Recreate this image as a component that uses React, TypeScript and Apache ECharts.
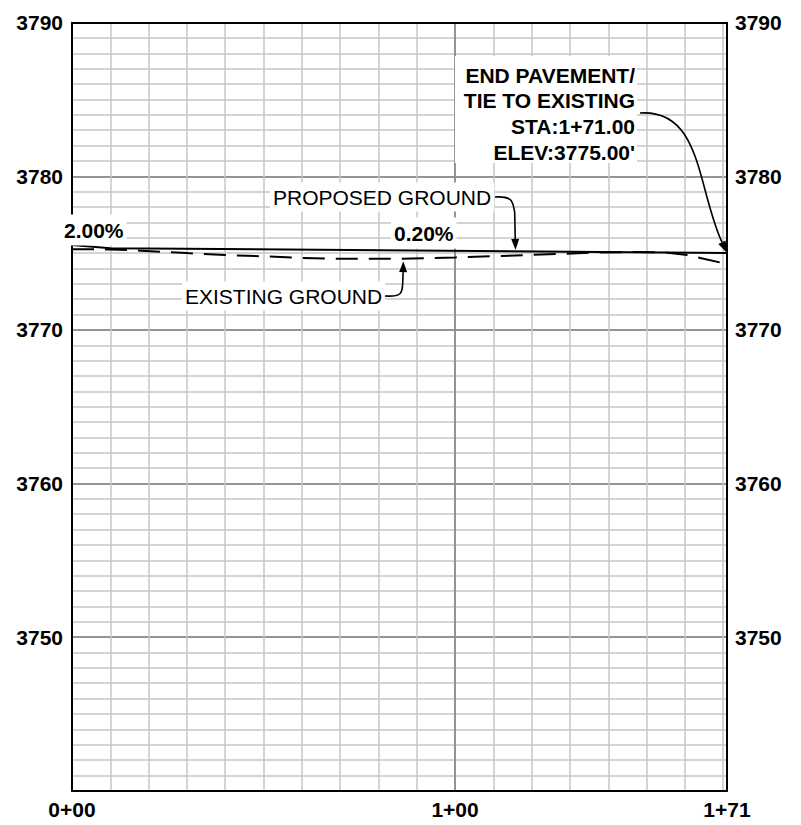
import React, { useEffect, useRef } from "react";
import * as echarts from "echarts";

const X_MIN = 0;
const X_MAX = 171;
const Y_MIN = 3740;
const Y_MAX = 3790;

const stationTicks = [0, 100, 171];
const stationTickLabels = ["0+00", "1+00", "1+71"];
const elevTickLabels = [3790, 3780, 3770, 3760, 3750];

const proposedStations = [0, 10, 171];
const proposedElev = [3775.52, 3775.32, 3775.0];

const existingStations = [0, 10, 18, 30, 40, 50, 60, 70, 85, 100, 120, 135, 145, 155, 160, 164, 171];
const existingElev = [
  3775.25, 3775.24, 3775.16, 3775.0, 3774.87, 3774.79, 3774.69, 3774.63, 3774.63, 3774.72,
  3774.88, 3775.02, 3775.07, 3775.04, 3774.9, 3774.68, 3774.29,
];

const gradeLabels = ["2.00%", "0.20%"];
const proposedNote = "PROPOSED GROUND";
const existingNote = "EXISTING GROUND";
const endNote = ["END PAVEMENT/", "TIE TO EXISTING", "STA:1+71.00", "ELEV:3775.00'"];

// annotation anchor stations
const proposedArrowStation = 115.8;
const existingArrowStation = 86.5;
const endArrowStation = 171;
const endArrowElev = 3775.0;

const FONT = "'Liberation Sans', Arial, sans-serif";
const MINOR = "#c6c6c6";
const MAJOR = "#7f7f7f";

function interp(xs: number[], ys: number[], x: number) {
  for (let i = 0; i < xs.length - 1; i++) {
    if (x >= xs[i] && x <= xs[i + 1]) {
      const t = (x - xs[i]) / (xs[i + 1] - xs[i]);
      return ys[i] + t * (ys[i + 1] - ys[i]);
    }
  }
  return ys[ys.length - 1];
}

function arrowHead(tx: number, ty: number, fx: number, fy: number, len = 11, hw = 4) {
  const dx = tx - fx;
  const dy = ty - fy;
  const d = Math.hypot(dx, dy) || 1;
  const ux = dx / d;
  const uy = dy / d;
  const bx = tx - ux * len;
  const by = ty - uy * len;
  const nx = -uy;
  const ny = ux;
  return {
    base: [bx, by],
    points: [
      [tx, ty],
      [bx + nx * hw, by + ny * hw],
      [bx - nx * hw, by - ny * hw],
    ],
  };
}

export default function App() {
  const ref = useRef<HTMLDivElement>(null);

  useEffect(() => {
    if (!ref.current) return;
    const chart = echarts.init(ref.current, null, { renderer: "svg" });

    const labelStyle = {
      color: "#000",
      fontFamily: FONT,
      fontWeight: "bold" as const,
      fontSize: 21,
    };
    const noAxisBits = {
      axisTick: { show: false },
    };

    chart.setOption({
      animation: false,
      backgroundColor: "#fff",
      grid: { left: 72, right: 74, top: 22.7, bottom: 34.3, containLabel: false },
      xAxis: [
        {
          type: "value",
          min: X_MIN,
          max: X_MAX,
          interval: 10,
          position: "bottom",
          axisLine: { show: false },
          axisLabel: { show: false },
          ...noAxisBits,
          splitLine: {
            show: true,
            showMinLine: false,
            showMaxLine: false,
            lineStyle: { color: MINOR, width: 1.5 },
          },
        },
        {
          type: "value",
          min: X_MIN,
          max: X_MAX,
          interval: 100,
          position: "bottom",
          axisLine: { show: true, onZero: false, lineStyle: { color: "#000", width: 2 } },
          ...noAxisBits,
          axisLabel: {
            show: true,
            customValues: stationTicks,
            showMinLabel: true,
            showMaxLabel: true,
            hideOverlap: false,
            margin: 8,
            ...labelStyle,
            formatter: (v: number) => {
              const i = stationTicks.indexOf(Math.round(v));
              return i >= 0 ? stationTickLabels[i] : "";
            },
          },
          splitLine: {
            show: true,
            showMinLine: false,
            showMaxLine: false,
            lineStyle: { color: MAJOR, width: 1.5 },
          },
        },
        {
          type: "value",
          min: X_MIN,
          max: X_MAX,
          position: "top",
          axisLine: { show: true, onZero: false, lineStyle: { color: "#000", width: 2 } },
          ...noAxisBits,
          axisLabel: { show: false },
          splitLine: { show: false },
        },
      ],
      yAxis: [
        {
          type: "value",
          min: Y_MIN,
          max: Y_MAX,
          interval: 1,
          position: "left",
          axisLine: { show: false },
          axisLabel: { show: false },
          ...noAxisBits,
          splitLine: {
            show: true,
            showMinLine: false,
            showMaxLine: false,
            lineStyle: { color: MINOR, width: 1.5 },
          },
        },
        {
          type: "value",
          min: Y_MIN,
          max: Y_MAX,
          interval: 10,
          position: "left",
          axisLine: { show: true, onZero: false, lineStyle: { color: "#000", width: 2 } },
          ...noAxisBits,
          axisLabel: {
            show: true,
            margin: 9,
            ...labelStyle,
            formatter: (v: number) => (elevTickLabels.indexOf(v) >= 0 ? String(v) : ""),
          },
          splitLine: {
            show: true,
            showMinLine: false,
            showMaxLine: false,
            lineStyle: { color: MAJOR, width: 1.5 },
          },
        },
        {
          type: "value",
          min: Y_MIN,
          max: Y_MAX,
          interval: 10,
          position: "right",
          axisLine: { show: true, onZero: false, lineStyle: { color: "#000", width: 2 } },
          ...noAxisBits,
          axisLabel: {
            show: true,
            margin: 8,
            ...labelStyle,
            formatter: (v: number) => (elevTickLabels.indexOf(v) >= 0 ? String(v) : ""),
          },
          splitLine: { show: false },
        },
      ],
      series: [
        {
          name: "Proposed Ground",
          type: "line",
          xAxisIndex: 0,
          yAxisIndex: 0,
          symbol: "none",
          z: 5,
          lineStyle: { color: "#000", width: 2 },
          data: proposedStations.map((s, i) => [s, proposedElev[i]]),
        },
        {
          name: "Existing Ground",
          type: "line",
          xAxisIndex: 0,
          yAxisIndex: 0,
          symbol: "none",
          z: 5,
          lineStyle: { color: "#000", width: 2, type: [22, 11] },
          data: existingStations.map((s, i) => [s, existingElev[i]]),
        },
      ],
    });

    const px = (s: number, e: number) =>
      chart.convertToPixel({ xAxisIndex: 0, yAxisIndex: 0 }, [s, e]) as number[];

    // tips
    const pTip = px(proposedArrowStation, interp(proposedStations, proposedElev, proposedArrowStation));
    pTip[1] -= 1.5;
    const eTip = px(existingArrowStation, interp(existingStations, existingElev, existingArrowStation));
    eTip[1] += 2.5;
    const endTip = px(endArrowStation, endArrowElev);

    const pHead = arrowHead(pTip[0], pTip[1], pTip[0] - 1, pTip[1] - 30);
    const eHead = arrowHead(eTip[0], eTip[1], eTip[0] - 0.5, eTip[1] + 30);
    const endCp2 = [697, 188];
    const endHead = arrowHead(endTip[0], endTip[1], endCp2[0], endCp2[1], 12, 4);

    const bold = { fontFamily: FONT, fontWeight: "bold", fontSize: 21, fill: "#000" };
    const regular = { fontFamily: FONT, fontWeight: "normal", fontSize: 21, fill: "#000" };
    const leader = { stroke: "#000", lineWidth: 1.6, fill: null };

    chart.setOption({
      graphic: [
        {
          type: "text",
          z: 100,
          x: 63,
          y: 230,
          style: {
            ...bold,
            text: gradeLabels[0],
            align: "left",
            verticalAlign: "middle",
            backgroundColor: "#fff",
            padding: [5, 3, 5, 1],
          },
        },
        {
          type: "text",
          z: 100,
          x: 391,
          y: 233,
          style: {
            ...bold,
            text: gradeLabels[1],
            align: "left",
            verticalAlign: "middle",
            backgroundColor: "#fff",
            padding: [5, 3, 5, 3],
          },
        },
        {
          type: "text",
          z: 100,
          x: 270,
          y: 197,
          style: {
            ...regular,
            text: proposedNote,
            align: "left",
            verticalAlign: "middle",
            backgroundColor: "#fff",
            padding: [4, 3, 4, 3],
          },
        },
        {
          type: "text",
          z: 100,
          x: 182,
          y: 296,
          style: {
            ...regular,
            text: existingNote,
            align: "left",
            verticalAlign: "middle",
            backgroundColor: "#fff",
            padding: [4, 3, 4, 3],
          },
        },
        {
          type: "rect",
          z: 99,
          shape: { x: 455, y: 56, width: 182, height: 107 },
          style: { fill: "#fff" },
        },
        ...endNote.map((t, i) => ({
          type: "text",
          z: 100,
          x: 635,
          y: 75 + i * 25.7,
          style: { ...bold, text: t, align: "right", verticalAlign: "middle" },
        })),
        // proposed ground leader
        {
          type: "bezierCurve",
          z: 101,
          shape: {
            x1: 495,
            y1: 197,
            cpx1: pTip[0] - 2,
            cpy1: 196,
            cpx2: pTip[0] - 3,
            cpy2: 202,
            x2: pHead.base[0] - 0.5,
            y2: 212,
          },
          style: leader,
        },
        {
          type: "line",
          z: 101,
          shape: { x1: pHead.base[0] - 0.5, y1: 212, x2: pHead.base[0], y2: pHead.base[1] },
          style: leader,
        },
        { type: "polygon", z: 101, shape: { points: pHead.points }, style: { fill: "#000" } },
        // existing ground leader
        {
          type: "bezierCurve",
          z: 101,
          shape: {
            x1: 385,
            y1: 296,
            cpx1: eTip[0] - 2,
            cpy1: 297,
            cpx2: eTip[0] - 1,
            cpy2: 293,
            x2: eHead.base[0] - 0.5,
            y2: 284,
          },
          style: leader,
        },
        {
          type: "line",
          z: 101,
          shape: { x1: eHead.base[0] - 0.5, y1: 284, x2: eHead.base[0], y2: eHead.base[1] },
          style: leader,
        },
        { type: "polygon", z: 101, shape: { points: eHead.points }, style: { fill: "#000" } },
        // end pavement leader
        {
          type: "bezierCurve",
          z: 101,
          shape: {
            x1: 640,
            y1: 113,
            cpx1: 702,
            cpy1: 109,
            cpx2: endCp2[0],
            cpy2: endCp2[1],
            x2: endHead.base[0],
            y2: endHead.base[1],
          },
          style: leader,
        },
        { type: "polygon", z: 101, shape: { points: endHead.points }, style: { fill: "#000" } },
      ],
    });

    return () => chart.dispose();
  }, []);

  return (
    <div
      ref={ref}
      style={{ position: "absolute", left: 0, top: 0, width: 801, height: 825, background: "#fff" }}
    />
  );
}
